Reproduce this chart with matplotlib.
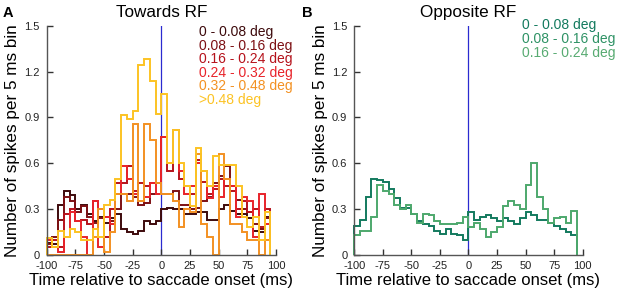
import numpy as np
import matplotlib
matplotlib.use('Agg')
import matplotlib.pyplot as plt

plt.rcParams['font.family'] = ['Liberation Sans', 'DejaVu Sans']

# 5 ms bins, edges -100 ... 95
edges = np.arange(-100, 96, 5)

labels_a = ['0 - 0.08 deg', '0.08 - 0.16 deg', '0.16 - 0.24 deg',
            '0.24 - 0.32 deg', '0.32 - 0.48 deg', '>0.48 deg']
colors_a = ['#3d0a0c', '#7d1014', '#b5121b', '#e8232a', '#f39122', '#fcc324']

a_0_008 = [0.08, 0.07, 0.33, 0.42, 0.39, 0.30, 0.33, 0.27, 0.22, 0.25,
           0.21, 0.24, 0.27, 0.17, 0.15, 0.14, 0.16, 0.22, 0.20, 0.22,
           0.30, 0.31, 0.30, 0.30, 0.27, 0.27, 0.28, 0.28, 0.23, 0.23,
           0.30, 0.33, 0.29, 0.27, 0.27, 0.24, 0.16, 0.15, 0.25]
a_008_016 = [0.07, 0.12, 0.23, 0.38, 0.35, 0.28, 0.32, 0.25, 0.21, 0.24,
             0.25, 0.22, 0.30, 0.40, 0.40, 0.38, 0.33, 0.34, 0.40, 0.40,
             0.40, 0.40, 0.42, 0.33, 0.33, 0.30, 0.31, 0.35, 0.38, 0.47,
             0.52, 0.58, 0.45, 0.36, 0.30, 0.28, 0.20, 0.17, 0.24]
a_016_024 = [0.05, 0.10, 0.05, 0.27, 0.30, 0.22, 0.23, 0.20, 0.35, 0.30,
             0.12, 0.30, 0.47, 0.47, 0.58, 0.42, 0.47, 0.45, 0.47, 0.47,
             0.77, 0.55, 0.82, 0.50, 0.45, 0.40, 0.62, 0.48, 0.40, 0.43,
             0.50, 0.45, 0.42, 0.30, 0.35, 0.28, 0.30, 0.18, 0.30]
a_024_032 = [0.10, 0.05, 0.02, 0.12, 0.28, 0.22, 0.12, 0.00, 0.35, 0.05,
             0.25, 0.20, 0.40, 0.58, 0.50, 0.40, 0.35, 0.38, 0.47, 0.40,
             0.77, 0.60, 0.82, 0.55, 0.40, 0.45, 0.60, 0.55, 0.37, 0.45,
             0.38, 0.50, 0.45, 0.25, 0.38, 0.35, 0.12, 0.40, 0.20]
a_032_048 = [0.00, 0.00, 0.00, 0.00, 0.00, 0.00, 0.00, 0.00, 0.12, 0.30,
             0.02, 0.15, 0.40, 0.40, 0.35, 0.86, 0.35, 0.86, 0.75, 0.47,
             0.40, 0.40, 0.35, 0.18, 0.30, 0.28, 0.66, 0.20, 0.12, 0.00,
             0.66, 0.50, 0.20, 0.20, 0.15, 0.10, 0.10, 0.00, 0.10]
a_048 = [0.11, 0.05, 0.16, 0.12, 0.17, 0.15, 0.10, 0.10, 0.17, 0.12,
         0.33, 0.36, 0.50, 0.915, 0.89, 0.94, 1.24, 1.28, 1.14, 0.92,
         1.05, 0.60, 0.82, 0.60, 0.45, 0.32, 0.70, 0.55, 0.45, 0.65,
         0.59, 0.59, 0.59, 0.45, 0.25, 0.18, 0.25, 0.10, 0.28]
series_a = [a_0_008, a_008_016, a_016_024, a_024_032, a_032_048, a_048]

labels_b = ['0 - 0.08 deg', '0.08 - 0.16 deg', '0.16 - 0.24 deg']
text_colors_b = ['#137a5e', '#2e9265', '#58ab72']
colors_b = ['#137a5e', '#4da86c']

b_dark = [0.19, 0.23, 0.38, 0.50, 0.49, 0.48, 0.43, 0.37, 0.31, 0.31,
          0.27, 0.22, 0.20, 0.19, 0.16, 0.14, 0.17, 0.14, 0.13, 0.10,
          0.28, 0.23, 0.25, 0.26, 0.24, 0.22, 0.24, 0.22, 0.20, 0.24,
          0.28, 0.26, 0.23, 0.23, 0.21, 0.19, 0.17, 0.15, 0.13]
b_light = [0.13, 0.16, 0.16, 0.25, 0.46, 0.42, 0.40, 0.33, 0.30, 0.33,
           0.27, 0.21, 0.27, 0.26, 0.22, 0.20, 0.20, 0.20, 0.21, 0.25,
           0.18, 0.21, 0.17, 0.12, 0.15, 0.18, 0.32, 0.35, 0.33, 0.30,
           0.46, 0.60, 0.38, 0.30, 0.21, 0.24, 0.25, 0.21, 0.29]
series_b = [b_dark, b_light]

xticks = [-100, -75, -50, -25, 0, 25, 50, 75, 100]
xticklabels = ['-100', '-75', '-50', '-25', '0', '25', '50', '75', '100']
yticks = [0, 0.3, 0.6, 0.9, 1.2, 1.5]
yticklabels = ['0', '0.3', '0.6', '0.9', '1.2', '1.5']


def style_axes(ax):
    ax.set_xlim(-100, 100)
    ax.set_ylim(0, 1.5)
    ax.set_xticks(xticks)
    ax.set_xticklabels(xticklabels)
    ax.set_yticks(yticks)
    ax.set_yticklabels(yticklabels)
    for s in ['top', 'right']:
        ax.spines[s].set_visible(False)
    for s in ['left', 'bottom']:
        ax.spines[s].set_color('#555555')
        ax.spines[s].set_linewidth(1.0)
    ax.tick_params(direction='in', length=4, width=1, color='#333333',
                   labelsize=8, labelcolor='#222222')
    ax.tick_params(axis='x', pad=4)
    ax.tick_params(axis='y', pad=5)
    ax.set_xlabel('Time relative to saccade onset (ms)', fontsize=12, labelpad=2)
    ax.set_ylabel('Number of spikes per 5 ms bin', fontsize=12.3, labelpad=3)
    ax.axvline(0, color='#2b2bd0', lw=0.9, zorder=1)


fig = plt.figure(figsize=(6.17, 2.96), dpi=100)
ax1 = fig.add_axes([0.0757, 0.1385, 0.3716, 0.7747])
ax2 = fig.add_axes([0.5742, 0.1385, 0.3702, 0.7747])

for ax in (ax1, ax2):
    style_axes(ax)

for vals, c in zip(series_a, colors_a):
    ax1.stairs(vals, edges, color=c, lw=1.4, baseline=0, zorder=2, clip_on=False)
for vals, c in zip(series_b, colors_b):
    ax2.stairs(vals, edges, color=c, lw=1.4, baseline=0, zorder=2, clip_on=False)

ax1.set_title('Towards RF', fontsize=12.3, pad=6)
ax2.set_title('Opposite RF', fontsize=12.3, pad=6)

for k, (lab, c) in enumerate(zip(labels_a, colors_a)):
    ax1.text(0.665, 0.972 - k * 0.059, lab, transform=ax1.transAxes, color=c,
             fontsize=10, va='center', ha='left')
for k, (lab, c) in enumerate(zip(labels_b, text_colors_b)):
    ax2.text(0.734, 1.005 - k * 0.061, lab, transform=ax2.transAxes, color=c,
             fontsize=10, va='center', ha='left', clip_on=False)

fig.text(0.004, 0.955, 'A', fontsize=10.5, fontweight='bold', va='center')
fig.text(0.49, 0.955, 'B', fontsize=10.5, fontweight='bold', va='center')

fig.savefig('out.png', dpi=100)
